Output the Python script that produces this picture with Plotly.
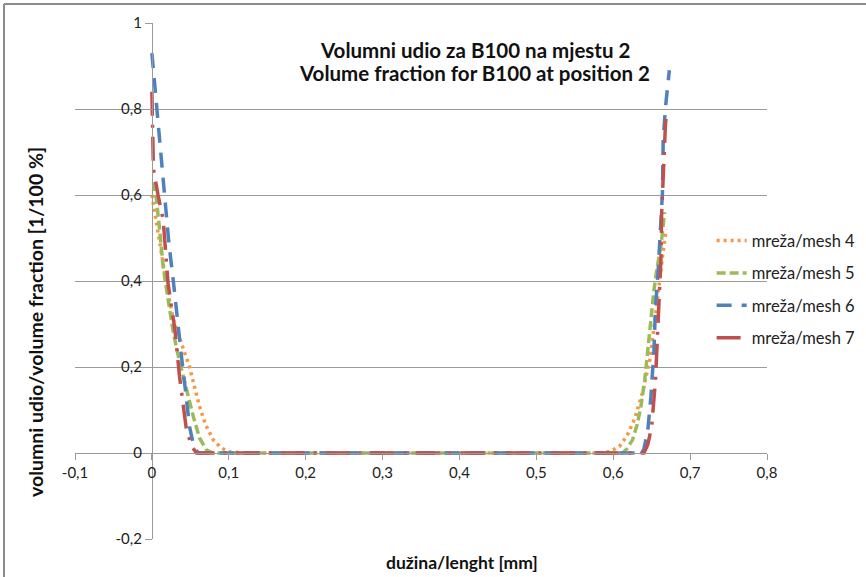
import plotly.graph_objects as go

# Volume fraction profiles of B100 across the channel, position 2, four mesh levels
mesh4_x = [0.0, 0.005, 0.012, 0.020, 0.028, 0.034, 0.042, 0.049, 0.056, 0.062, 0.070, 0.080,
           0.090, 0.100, 0.120, 0.300, 0.500, 0.580, 0.595, 0.608, 0.618, 0.628, 0.638,
           0.648, 0.655, 0.660, 0.665, 0.669]
mesh4_y = [0.60, 0.55, 0.47, 0.38, 0.31, 0.278, 0.235, 0.20, 0.15, 0.108, 0.065, 0.030,
           0.012, 0.003, 0.0, 0.0, 0.0, 0.0, 0.003, 0.015, 0.040, 0.080, 0.140,
           0.220, 0.320, 0.400, 0.470, 0.520]

mesh5_x = [0.002, 0.006, 0.010, 0.0147, 0.020, 0.028, 0.035, 0.041, 0.048, 0.054, 0.062,
           0.071, 0.080, 0.300, 0.500, 0.612, 0.618, 0.625, 0.631, 0.636, 0.641, 0.645,
           0.649, 0.653, 0.657, 0.662, 0.665, 0.667]
mesh5_y = [0.63, 0.588, 0.52, 0.433, 0.37, 0.279, 0.22, 0.177, 0.13, 0.084, 0.035,
           0.007, 0.0, 0.0, 0.0, 0.0, 0.010, 0.030, 0.065, 0.108, 0.170, 0.240,
           0.310, 0.379, 0.430, 0.480, 0.530, 0.560]

mesh6_x = [0.0, 0.004, 0.008, 0.012, 0.017, 0.022, 0.028, 0.033, 0.0385, 0.044, 0.049,
           0.054, 0.060, 0.300, 0.500, 0.630, 0.635, 0.640, 0.645, 0.649, 0.653, 0.655,
           0.658, 0.660, 0.662, 0.664, 0.665, 0.668, 0.673]
mesh6_y = [0.93, 0.85, 0.76, 0.68, 0.588, 0.49, 0.398, 0.31, 0.224, 0.14, 0.061,
           0.020, 0.0, 0.0, 0.0, 0.0, -0.008, 0.010, 0.053, 0.131, 0.240, 0.340,
           0.410, 0.470, 0.510, 0.604, 0.728, 0.805, 0.890]

mesh7_x = [0.0, 0.002, 0.008, 0.0147, 0.021, 0.030, 0.036, 0.045, 0.052, 0.058, 0.300,
           0.500, 0.640, 0.645, 0.650, 0.655, 0.658, 0.662, 0.663, 0.665, 0.666, 0.668,
           0.669]
mesh7_y = [0.84, 0.66, 0.60, 0.542, 0.395, 0.286, 0.177, 0.053, 0.015, 0.0, 0.0,
           0.0, 0.0, 0.020, 0.061, 0.170, 0.300, 0.449, 0.558, 0.651, 0.705, 0.767,
           0.780]

series_names = ["mreža/mesh 4", "mreža/mesh 5", "mreža/mesh 6", "mreža/mesh 7"]

x_tick_vals = [-0.1, 0.0, 0.1, 0.2, 0.3, 0.4, 0.5, 0.6, 0.7, 0.8]
x_tick_text = ["-0,1", "0", "0,1", "0,2", "0,3", "0,4", "0,5", "0,6", "0,7", "0,8"]
y_tick_vals = [-0.2, 0.0, 0.2, 0.4, 0.6, 0.8, 1.0]
y_tick_text = ["-0,2", "0", "0,2", "0,4", "0,6", "0,8", "1"]

title_lines = ["Volumni udio za B100 na mjestu 2", "Volume fraction for B100 at position 2"]
x_title = "dužina/lenght [mm]"
y_title = "volumni udio/volume fraction [1/100 %]"

FONT = "Lato"
TXT = "#222222"
styles = [
    dict(color="#F79646", dash="3px,4px"),
    dict(color="#9BBB59", dash="9px,4px"),
    dict(color="#4F81BD", dash="15px,10px"),
    dict(color="#C0504D", dash="24px,9px,3px,9px"),
]
data = [(mesh4_x, mesh4_y), (mesh5_x, mesh5_y), (mesh6_x, mesh6_y), (mesh7_x, mesh7_y)]

fig = go.Figure()
for i, ((xs, ys), name, st) in enumerate(zip(data, series_names, styles)):
    fig.add_trace(go.Scatter(
        x=xs, y=ys, mode="lines", name=name, legendgroup=f"g{i}",
        line=dict(color=st["color"], dash=st["dash"], width=3.5),
    ))

xr = [-0.1, 0.8]
yr = [-0.2, 1.0]
annotations = [
    dict(text=f"<b>{title_lines[0]}</b>", xref="paper", yref="paper",
         x=0.578, y=1 - (50 - 23) / 516, yanchor="middle", showarrow=False,
         font=dict(family=FONT, size=20.5, color="#111111")),
    dict(text=f"<b>{title_lines[1]}</b>", xref="paper", yref="paper",
         x=0.578, y=1 - (73 - 23) / 516, yanchor="middle", showarrow=False,
         font=dict(family=FONT, size=20.5, color="#111111")),
    dict(text=f"<b>{x_title}</b>", xref="paper", yref="paper",
         x=0.559, y=-(562 - 539) / 516, yanchor="middle", showarrow=False,
         font=dict(family=FONT, size=17.5, color="#111111")),
    dict(text=f"<b>{y_title}</b>", xref="paper", yref="paper",
         x=(35 - 75) / 692, xanchor="center", y=1 - (322 - 23) / 516, yanchor="middle",
         textangle=-90, showarrow=False,
         font=dict(family=FONT, size=19.5, color="#111111")),
]

fig.update_layout(
    width=866, height=577,
    margin=dict(l=75, r=99, t=23, b=38, autoexpand=False),
    paper_bgcolor="white", plot_bgcolor="white",
    font=dict(family=FONT, size=15, color=TXT),
    showlegend=True,
    legend=dict(x=0.92, y=0.612, xanchor="left", yanchor="top",
                font=dict(family=FONT, size=16.5, color=TXT),
                tracegroupgap=8, bgcolor="rgba(0,0,0,0)"),
    xaxis=dict(range=xr, tickvals=x_tick_vals, ticktext=x_tick_text,
               showgrid=False, zeroline=False, showline=True, linecolor="#9a9a9a",
               linewidth=1, ticks="outside", ticklen=6, tickcolor="#9a9a9a",
               anchor="free", position=(0 - yr[0]) / (yr[1] - yr[0]),
               tickfont=dict(family=FONT, size=15, color=TXT)),
    yaxis=dict(range=yr, tickvals=y_tick_vals, ticktext=y_tick_text,
               showgrid=True, gridcolor="#9a9a9a", gridwidth=1, zeroline=False,
               showline=True, linecolor="#9a9a9a", linewidth=1, ticks="outside",
               ticklen=7, tickcolor="#9a9a9a",
               anchor="free", position=(0 - xr[0]) / (xr[1] - xr[0]),
               tickfont=dict(family=FONT, size=15, color=TXT)),
    annotations=annotations,
    shapes=[
        dict(type="line", xref="paper", yref="paper", x0=-0.1026, x1=1.15,
             y0=1.0368, y1=1.0368, line=dict(color="#8c8c8c", width=2)),
        dict(type="line", xref="paper", yref="paper", x0=-0.1026, x1=-0.1026,
             y0=1.0368, y1=-0.08, line=dict(color="#8c8c8c", width=2)),
    ],
)

fig.write_html("out.html")
